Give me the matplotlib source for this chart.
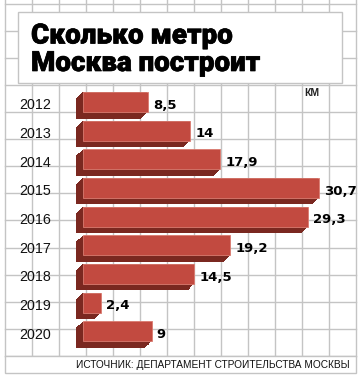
import matplotlib
matplotlib.use("Agg")
import matplotlib.pyplot as plt
import matplotlib.transforms as mtransforms
import matplotlib.patheffects as pe
from matplotlib.patches import Rectangle

years = ["2012", "2013", "2014", "2015", "2016", "2017", "2018", "2019", "2020"]
values = [8.5, 14, 17.9, 30.7, 29.3, 19.2, 14.5, 2.4, 9]
title = "Сколько метро\nМосква построит"
unit = "КМ"
source = "ИСТОЧНИК: ДЕПАРТАМЕНТ СТРОИТЕЛЬСТВА МОСКВЫ"

W, H = 364, 381
DPI = 100
fig = plt.figure(figsize=(W / DPI, H / DPI), dpi=DPI)
fig.patch.set_facecolor("white")

# background axes in pixel coordinates (decoration)
bg = fig.add_axes([0, 0, 1, 1])
bg.set_xlim(0, W)
bg.set_ylim(H, 0)
bg.axis("off")

grid_c = "#C4C4C4"
x0, x1 = 5, 356
ytop, ybot = 3.5, 356
step = 27
for k in range(14):
    x = x0 + k * step
    bg.plot([x, x], [0, ybot], color=grid_c, lw=1.0, zorder=1)
for k in range(14):
    y = ytop + k * (ybot - ytop) / 13
    bg.plot([x0, x1], [y, y], color=grid_c, lw=1.0, zorder=1)

# source strip
bg.add_patch(Rectangle((x0, ybot), x1 - x0, 373 - ybot, facecolor="white",
                       edgecolor=grid_c, lw=1.0, zorder=2))
bg.text(350, 365, source, ha="right", va="center", fontsize=7.25,
        family=["Liberation Sans", "DejaVu Sans"], color="#111111", zorder=3)

# title box
bg.add_patch(Rectangle((18, 12), 342 - 18, 83 - 12, facecolor="white",
                       edgecolor=grid_c, lw=1.0, zorder=2))
t1, t2 = title.split("\n")
for txt, yb in ((t1, 43.5), (t2, 71)):
    bg.text(31, yb, txt, ha="left", va="baseline", fontsize=20, fontweight="black",
            family=["Roboto", "DejaVu Sans"], color="black", zorder=3,
            path_effects=[pe.withStroke(linewidth=0.5, foreground="black")])
bg.text(311.5, 93.5, unit, ha="center", va="center", fontsize=7.5, fontweight="bold",
        family=["Liberation Sans", "DejaVu Sans"], color="#222222", zorder=3)

# data axes
px_left, px_right = 82.5, 356
px_top, px_bot = 84, 356
scale = 7.70
row0, pitch = 102.0, 28.66
ax = fig.add_axes([px_left / W, 1 - px_bot / H, (px_right - px_left) / W, (px_bot - px_top) / H])
ax.set_xlim(0, (px_right - px_left) / scale)
ax.set_ylim((px_bot - row0) / pitch, (px_top - row0) / pitch)
ax.axis("off")
ax.patch.set_alpha(0)

pos = list(range(len(years)))
bh = 20 / pitch
face_c = "#C24A40"
dark_c = "#7A2820"
dx, dy = -6.5, -6.5
nsteps = 14
for s in range(nsteps, 0, -1):
    f = s / nsteps
    tr = ax.transData + mtransforms.ScaledTranslation(dx * f / DPI, dy * f / DPI, fig.dpi_scale_trans)
    bars = ax.barh(pos, values, height=bh, color=dark_c, edgecolor="none", transform=tr, zorder=3)
    for b in bars:
        b.set_clip_on(False)
front = ax.barh(pos, values, height=bh, color=face_c, edgecolor="#D97B70", lw=0.6, zorder=4)
for b in front:
    b.set_clip_on(False)

label_dy = 3.3 / pitch
for i, (yr, v) in enumerate(zip(years, values)):
    ax.text(35, i + label_dy, yr, transform=mtransforms.blended_transform_factory(bg.transData, ax.transData),
            ha="center", va="center", fontsize=10.3,
            family=["Liberation Sans", "DejaVu Sans"], color="#111111", clip_on=False)
    lab = f"{v:g}".replace(".", ",")
    ax.annotate(lab, (v, i + label_dy), xytext=(3.6, 0), textcoords="offset points",
                ha="left", va="center", fontsize=9.5, fontweight="bold",
                family=["DejaVu Sans"], color="black", zorder=5)

fig.savefig("out.png", dpi=DPI, facecolor="white")
